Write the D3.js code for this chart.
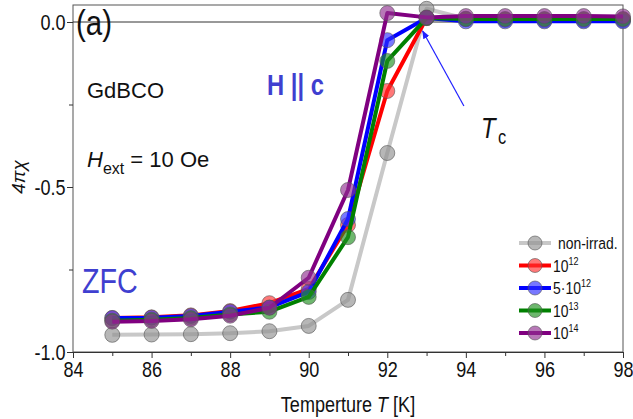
<!DOCTYPE html>
<html><head><meta charset="utf-8">
<script src="https://cdn.jsdelivr.net/npm/d3@7"></script>
<style>body{margin:0;background:#fff}svg{display:block}
text{font-family:"Liberation Sans",Arial,sans-serif}
</style>
</head><body>
<script>
const temps = [85,86,87,88,89,90,91,92,93,94,95,96,97,98];
const seriesNames = ["non-irrad.","10^12","5·10^12","10^13","10^14"];
const seriesColors = ["#c8c8c8","#ff0000","#0000ff","#008000","#800080"];
const markerColors = ["#909090","#ff3030","#3030ff","#209020","#903090"];
const nonIrrad = [-0.948,-0.947,-0.946,-0.943,-0.937,-0.921,-0.842,-0.397,0.040,0.010,0.006,0.005,0.005,0.005];
const irr1e12 = [-0.897,-0.895,-0.889,-0.876,-0.852,-0.809,-0.615,-0.209,0.012,0.008,0.008,0.008,0.008,0.008];
const irr5e12 = [-0.897,-0.896,-0.891,-0.878,-0.865,-0.818,-0.597,-0.055,0.012,0.002,0.002,0.002,0.002,0.002];
const irr1e13 = [-0.905,-0.902,-0.897,-0.886,-0.878,-0.833,-0.652,-0.118,0.012,0.009,0.009,0.009,0.009,0.009];
const irr1e14 = [-0.908,-0.906,-0.901,-0.890,-0.866,-0.775,-0.509,0.027,0.014,0.018,0.018,0.018,0.018,0.017];
const allSeries = [nonIrrad, irr1e12, irr5e12, irr1e13, irr1e14];
const xTicks = [84,86,88,90,92,94,96,98];
const yTicks = [-1.0,-0.5,0.0];

const W=633,H=419;
const SX=0.82;
const svg=d3.select("body").append("svg").attr("width",W).attr("height",H);
const x=d3.scaleLinear().domain([84,98]).range([73,623]);
const y=d3.scaleLinear().domain([-1,0]).range([352,22]);
const frameTop=5;

function ntext(px,py,size,anchor){
  return svg.append("g").attr("transform",`translate(${px},${py}) scale(${SX},1)`)
    .append("text").attr("font-size",size).attr("fill","#111").attr("text-anchor",anchor||"start");
}

// frame
svg.append("rect").attr("x",73).attr("y",frameTop).attr("width",623-73).attr("height",352-frameTop)
  .attr("fill","none").attr("stroke","#555").attr("stroke-width",1);
// zero line
svg.append("line").attr("x1",73).attr("x2",623).attr("y1",y(0)).attr("y2",y(0)).attr("stroke","#333").attr("stroke-width",1);

// axes
const xAxis=d3.axisBottom(x).tickValues(xTicks).tickFormat(d3.format("d")).tickSize(6).tickPadding(3);
const gx=svg.append("g").attr("transform","translate(0,352)").call(xAxis);
gx.select(".domain").attr("stroke","#333");
gx.selectAll(".tick text").attr("font-size",22).attr("fill","#111").attr("font-family",null).attr("transform",`scale(${SX},1)`);
gx.selectAll(".tick line").attr("stroke","#333");
const gxm=svg.append("g").attr("transform","translate(0,352)").call(d3.axisBottom(x).tickValues(d3.range(85,98,2)).tickFormat("").tickSize(4));
gxm.select(".domain").remove(); gxm.selectAll("line").attr("stroke","#333");

const yAxis=d3.axisLeft(y).tickValues(yTicks).tickFormat(d=>d3.format(".1f")(d).replace("−","-")).tickSize(6).tickPadding(3);
const gy=svg.append("g").attr("transform","translate(73,0)").call(yAxis);
gy.select(".domain").remove();
gy.selectAll(".tick text").attr("font-size",22).attr("fill","#111").attr("transform",`scale(${SX},1)`);
gy.selectAll(".tick line").attr("stroke","#333");
const gym=svg.append("g").attr("transform","translate(73,0)").call(d3.axisLeft(y).tickValues([-0.75,-0.25]).tickFormat("").tickSize(4));
gym.select(".domain").remove(); gym.selectAll("line").attr("stroke","#333");

// series
const line=d3.line().x((d,i)=>x(temps[i])).y(d=>y(d));
allSeries.forEach((s,k)=>{
  const g=svg.append("g");
  g.append("path").datum(s).attr("d",line).attr("fill","none").attr("stroke",seriesColors[k]).attr("stroke-width",4).attr("stroke-linejoin","round");
  g.selectAll("circle").data(s).join("circle").attr("cx",(d,i)=>x(temps[i])).attr("cy",d=>y(d)).attr("r",7.5)
    .attr("fill",markerColors[k]).attr("fill-opacity",0.65).attr("stroke","#555").attr("stroke-opacity",0.6).attr("stroke-width",1);
});

// legend
seriesNames.forEach((n,k)=>{
  const yy=243+k*22.5;
  svg.append("line").attr("x1",519).attr("x2",551).attr("y1",yy).attr("y2",yy).attr("stroke",seriesColors[k]).attr("stroke-width",4);
  svg.append("circle").attr("cx",535).attr("cy",yy).attr("r",7).attr("fill",markerColors[k]).attr("fill-opacity",0.65).attr("stroke","#555").attr("stroke-opacity",0.6);
  const t=ntext(k===0?558:553,yy+6,17);
  const parts=n.split("^");
  t.append("tspan").text(parts[0]);
  if(parts[1]) t.append("tspan").attr("font-size",11).attr("dy",-7).text(parts[1]);
});

// annotations
ntext(76,35,36).text("(a)");
svg.append("text").attr("x",87).attr("y",98).attr("font-size",22).attr("fill","#111").text("GdBCO");
ntext(267,95,29).attr("font-weight","bold").attr("fill","#3f3fd0").text("H || c");
const he=svg.append("text").attr("x",87).attr("y",167).attr("font-size",22).attr("fill","#111");
he.append("tspan").attr("font-style","italic").text("H");
he.append("tspan").attr("font-size",16).attr("dy",7).text("ext");
he.append("tspan").attr("dy",-7).text(" = 10 Oe");
ntext(82,293,35).attr("fill","#3f3fd0").text("ZFC");
const tc=ntext(481,138,29);
tc.append("tspan").attr("font-style","italic").text("T");
tc.append("tspan").attr("font-size",20).attr("dy",6).attr("dx",3).text("c");

// arrow
const defs=svg.append("defs");
defs.append("marker").attr("id","ah").attr("viewBox","0 0 10 10").attr("refX",9).attr("refY",5)
  .attr("markerWidth",7).attr("markerHeight",7).attr("orient","auto")
  .append("path").attr("d","M0,1 L10,5 L0,9 Z").attr("fill","#2020ff");
svg.append("line").attr("x1",x(93.95)).attr("y1",106).attr("x2",x(92.9)).attr("y2",31)
  .attr("stroke","#2020ff").attr("stroke-width",1.2).attr("marker-end","url(#ah)");

// axis labels
const xl=ntext(348,412,22,"middle");
xl.append("tspan").text("Temperture ");
xl.append("tspan").attr("font-style","italic").text("T");
xl.append("tspan").text(" [K]");
svg.append("text").attr("transform","translate(25,177) rotate(-90)").attr("text-anchor","middle")
  .attr("font-size",19).attr("font-style","italic").attr("font-family","DejaVu Serif, serif").attr("fill","#111").text("4πχ");
</script>
</body></html>
